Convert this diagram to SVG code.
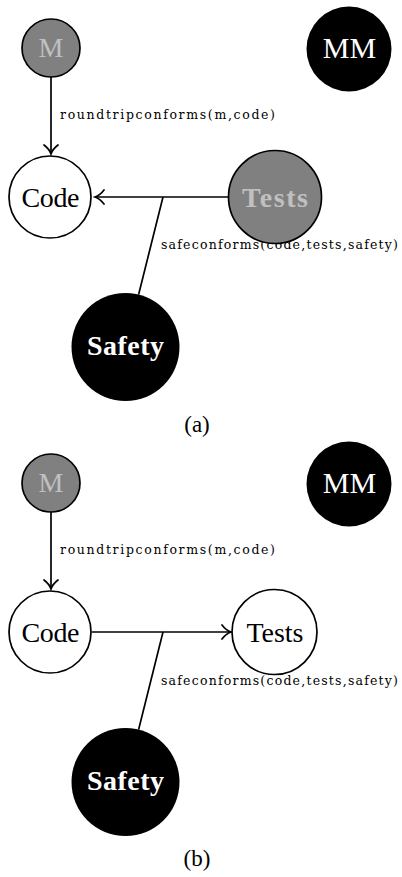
<svg xmlns="http://www.w3.org/2000/svg" width="402" height="877" viewBox="0 0 402 877">
<defs>
<style>
.node{stroke:#000;stroke-width:1.7}
.white{fill:#fff}
.gray{fill:#808080}
.black{fill:#000}
.lbl{font-family:"Liberation Serif","Times New Roman",serif;font-size:28px;text-anchor:middle}
.mm{font-size:30px}
.bold{font-weight:bold}
.lt{fill:#c0c0c0}
.wt{fill:#fff}
.bt{fill:#000}
.edge{stroke:#000;stroke-width:1.7;fill:none}
.small{font-family:"DejaVu Serif",serif;font-size:12.5px;fill:#000}
.cap{font-family:"Liberation Serif","Times New Roman",serif;font-size:23px;fill:#000;text-anchor:middle}
</style>
<marker id="arr" markerWidth="13" markerHeight="18" refX="11" refY="9" orient="auto" markerUnits="userSpaceOnUse">
<path d="M2,2 Q6,7.3 11,9 Q6,10.7 2,16" fill="none" stroke="#000" stroke-width="1.7" stroke-linecap="round"/>
</marker>
</defs>
<g id="panel-a">
<g id="connectors-a">
<line class="edge" x1="51" y1="77" x2="51" y2="154" marker-end="url(#arr)"/>
<line class="edge" x1="228" y1="197" x2="95" y2="197" marker-end="url(#arr)"/>
<line class="edge" x1="163" y1="197" x2="138.6" y2="294.6"/>
<text class="small" x="60" y="119" textLength="215" lengthAdjust="spacing">roundtripconforms(m,code)</text>
<text class="small" x="161" y="249" textLength="237" lengthAdjust="spacing">safeconforms(code,tests,safety)</text>
</g>
<g id="a-M"><circle class="node gray" cx="51" cy="48" r="29"/><text class="lbl lt" x="51" y="57">M</text></g>
<g id="a-MM"><circle class="black" cx="349" cy="49" r="42.5"/><text class="lbl mm wt" x="349.5" y="58">MM</text></g>
<g id="a-Code"><circle class="node white" cx="50" cy="197" r="41"/><text class="lbl bt" x="50.5" y="207" textLength="58">Code</text></g>
<g id="a-Tests"><circle class="node gray" cx="275" cy="197" r="46.5"/><text class="lbl bold lt" x="275" y="207" textLength="66">Tests</text></g>
<g id="a-Safety"><circle class="black" cx="125.5" cy="347" r="54"/><text class="lbl bold wt" x="125.5" y="355" textLength="77">Safety</text></g>
<text class="cap" x="197" y="432">(a)</text>
</g>
<g id="panel-b">
<g id="connectors-b">
<line class="edge" x1="51" y1="512" x2="51" y2="589" marker-end="url(#arr)"/>
<line class="edge" x1="92" y1="632" x2="231" y2="632" marker-end="url(#arr)"/>
<line class="edge" x1="163" y1="632" x2="138.6" y2="729.6"/>
<text class="small" x="60" y="554" textLength="215" lengthAdjust="spacing">roundtripconforms(m,code)</text>
<text class="small" x="161" y="685" textLength="237" lengthAdjust="spacing">safeconforms(code,tests,safety)</text>
</g>
<g id="b-M"><circle class="node gray" cx="51" cy="483" r="29"/><text class="lbl lt" x="51" y="492">M</text></g>
<g id="b-MM"><circle class="black" cx="349" cy="484" r="42.5"/><text class="lbl mm wt" x="349.5" y="493">MM</text></g>
<g id="b-Code"><circle class="node white" cx="50" cy="632" r="41"/><text class="lbl bt" x="50.5" y="642" textLength="58">Code</text></g>
<g id="b-Tests"><circle class="node white" cx="274.5" cy="632" r="42.5"/><text class="lbl bt" x="275" y="642" textLength="57">Tests</text></g>
<g id="b-Safety"><circle class="black" cx="125.5" cy="782" r="54"/><text class="lbl bold wt" x="125.5" y="790" textLength="77">Safety</text></g>
<text class="cap" x="197" y="866">(b)</text>
</g>
</svg>
